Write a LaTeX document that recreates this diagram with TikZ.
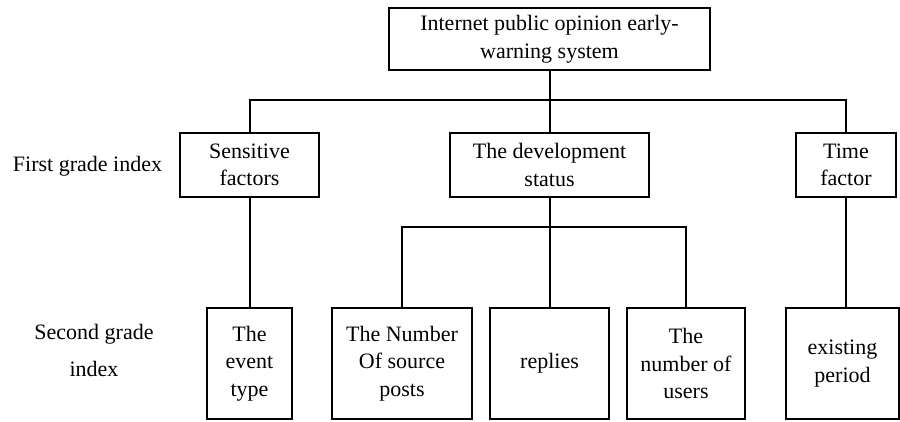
\documentclass[tikz,border=0pt]{standalone}
\usepackage{fontspec}
\setmainfont{Liberation Serif}
\begin{document}
\begin{tikzpicture}[x=1pt,y=-1pt,
  box/.style={draw, line width=2pt, inner sep=0pt, align=center,
    font=\fontsize{22}{27.5}\selectfont},
  lbl/.style={inner sep=0pt, align=center, font=\fontsize{22}{27.5}\selectfont},
  link/.style={line width=2pt}]
\useasboundingbox (0,0) rectangle (900,421);

% root
\node[box, minimum width=321pt, minimum height=62pt] (top) at (549.5,39)
  {Internet public opinion early-\\warning system};

% first grade
\node[box, minimum width=139pt, minimum height=64pt] (sens) at (249.5,165)
  {Sensitive\\factors};
\node[box, minimum width=199pt, minimum height=64pt] (dev) at (549.5,165)
  {The development\\status};
\node[box, minimum width=100pt, minimum height=64pt] (time) at (846,165)
  {Time\\factor};

% second grade
\node[box, minimum width=85pt, minimum height=111pt] (event) at (249.5,363.5)
  {The\\event\\type};
\node[box, minimum width=140pt, minimum height=111pt] (num) at (402,363.5)
  {The Number\\Of source\\posts};
\node[box, minimum width=119pt, minimum height=111pt] (replies) at (549.5,363.5)
  {replies};
\node[box, minimum width=118pt, minimum height=111pt] (users) at (686,363.5)
  {The\\number of\\users};
\node[box, minimum width=113pt, minimum height=111pt] (exist) at (842.5,363.5)
  {existing\\period};

% level labels
\node[lbl] (lvl1) at (87.5,166) {First grade index};
\node[lbl] (lvl2) at (94,350.5) {Second grade\\[9.5pt]index};

% buses
\coordinate (bus) at (0,100);
\coordinate (bus2) at (0,227);

\draw[link] (top.south) -- (dev.north);
\draw[link] (sens.north) -- (sens.north |- bus) -- (time.north |- bus) -- (time.north);
\draw[link] (sens.south) -- (event.north);
\draw[link] (dev.south) -- (replies.north);
\draw[link] (num.north) -- (num.north |- bus2) -- (users.north |- bus2) -- (users.north);
\draw[link] (time.south) -- (time.south |- exist.north);
\end{tikzpicture}
\end{document}
